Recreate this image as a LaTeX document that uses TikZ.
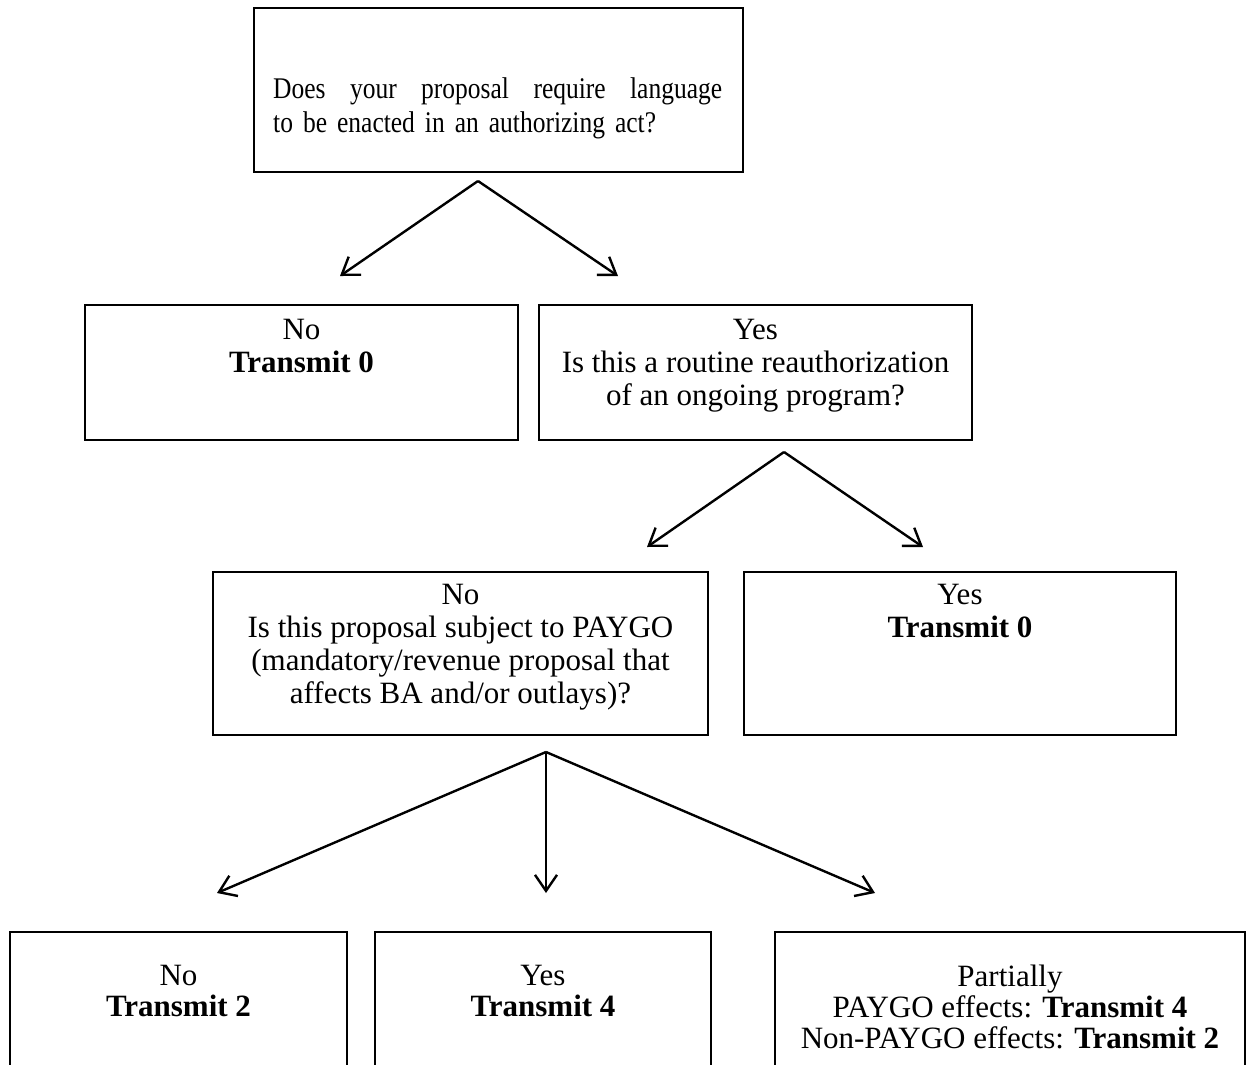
\documentclass[tikz,border=0pt]{standalone}
\usepackage{fontspec}
\setmainfont{Liberation Serif}
\newfontfamily\narrowserif[FakeStretch=0.85]{Liberation Serif}
\usetikzlibrary{arrows.meta}

\begin{document}
\begin{tikzpicture}[x=1pt,y=-1pt,
  box/.style={draw, line width=1.8pt, rectangle, inner sep=0pt, outer sep=0pt, anchor=north west},
  txt/.style={inner sep=0pt, align=center, anchor=north, font=\fontsize{31}{33}\selectfont},
  link/.style={line width=2.4pt, -{Straight Barb[length=16pt,width=22pt]}}
]
\useasboundingbox (0,0) rectangle (1256,1065);
\clip (0,0) rectangle (1256,1065);

% question: authorizing language
\node[box, minimum width=489pt, minimum height=164pt] (q1) at (254,8) {};
\node[inner sep=0pt, anchor=north west, text width=449pt, align=left,
      font=\narrowserif\fontsize{30}{34}\selectfont] (q1t) at (273,77)
  {\hbox to 449pt{Does\hfill your\hfill proposal\hfill require\hfill language}\\to be enacted in an authorizing act?};

% first answers
\node[box, minimum width=433pt, minimum height=135pt] (a1) at (85,305) {};
\node[txt] (a1t) at (301.5,319) {No\\\textbf{Transmit 0}};
\node[box, minimum width=433pt, minimum height=135pt] (q2) at (539,305) {};
\node[txt] (q2t) at (755.5,319) {Yes\\Is this a routine reauthorization\\of an ongoing program?};

% second answers
\node[box, minimum width=495pt, minimum height=163pt] (q3) at (213,572) {};
\node[txt] (q3t) at (460.5,584) {No\\Is this proposal subject to PAYGO\\(mandatory/revenue proposal that\\affects BA and/or outlays)?};
\node[box, minimum width=432pt, minimum height=163pt] (a2) at (744,572) {};
\node[txt] (a2t) at (960,584) {Yes\\\textbf{Transmit 0}};

% PAYGO outcomes
\node[box, minimum width=337pt, minimum height=180pt] (a3) at (10,932) {};
\node[txt, font=\fontsize{31}{31}\selectfont] (a3t) at (178.5,965) {No\\\textbf{Transmit 2}};
\node[box, minimum width=336pt, minimum height=180pt] (a4) at (375,932) {};
\node[txt, font=\fontsize{31}{31}\selectfont] (a4t) at (543,965) {Yes\\\textbf{Transmit 4}};
\node[box, minimum width=470pt, minimum height=180pt] (a5) at (775,932) {};
\node[txt, font=\fontsize{31}{31}\selectfont] (a5t) at (1010,964.3) {Partially\\PAYGO effects: \textbf{Transmit 4}\\Non-PAYGO effects: \textbf{Transmit 2}};

% fork points and arrow ends
\coordinate (f1) at (478,181);
\coordinate (e1a) at (340,276);
\coordinate (e1b) at (618,276);
\coordinate (f2) at (784,452);
\coordinate (e2a) at (647,547);
\coordinate (e2b) at (923,547);
\coordinate (f3) at (546,752);
\coordinate (e3a) at (217,893);
\coordinate (e3b) at (546,893);
\coordinate (e3c) at (875,893);

\draw[link] (f1) -- (e1a);
\draw[link] (f1) -- (e1b);
\draw[link] (f2) -- (e2a);
\draw[link] (f2) -- (e2b);
\draw[link] (f3) -- (e3a);
\draw[link] (f3) -- (e3b);
\draw[link] (f3) -- (e3c);
\end{tikzpicture}
\end{document}
